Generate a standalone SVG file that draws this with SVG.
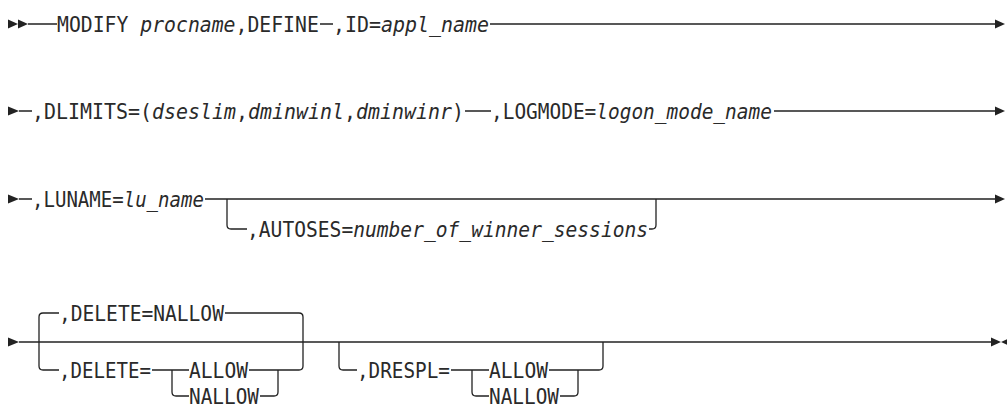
<svg xmlns="http://www.w3.org/2000/svg" width="1007" height="409" viewBox="0 0 1007 409">
<style>
text{font-family:"DejaVu Sans Mono","Liberation Mono",monospace;font-size:22px;fill:#2a2a2a}
.v{font-style:italic}
.ln{fill:none;stroke:#222;stroke-width:1.3}
.ah{fill:#222}
</style>
<rect width="1007" height="409" fill="#fff"/>
<g id="connectors">
<path class="ln" d="M28,24H57M320,24H333M490,24H995"/>
<path class="ln" d="M19,111H32M465,111H491M774,111H995"/>
<path class="ln" d="M19,199H32M205,199H995M227,199V225Q227,229 231,229H247M649,229H652Q656,229 656,225V199"/>
<path class="ln" d="M19,342H991"/>
<path class="ln" d="M59,313H43Q39,313 39,317V366Q39,370 43,370H59M225,313H299Q303,313 303,317V366Q303,370 299,370H249M152,370H189M172,370V392Q172,396 176,396H189M260,396H274Q278,396 278,392V370"/>
<path class="ln" d="M339,342V366Q339,370 343,370H357M451,370H489M472,370V392Q472,396 476,396H489M549,370H599Q603,370 603,366V342M560,396H574Q578,396 578,392V370"/>
<polygon class="ah" points="8,19.5 18,24 8,28.5"/>
<polygon class="ah" points="18,19.5 28,24 18,28.5"/>
<polygon class="ah" points="995,19.5 1005,24 995,28.5"/>
<polygon class="ah" points="8,106.5 19,111 8,115.5"/>
<polygon class="ah" points="995,106.5 1005,111 995,115.5"/>
<polygon class="ah" points="8,194.5 19,199 8,203.5"/>
<polygon class="ah" points="995,194.5 1005,199 995,203.5"/>
<polygon class="ah" points="8,337.5 19,342 8,346.5"/>
<polygon class="ah" points="991,337.5 1001,342 991,346.5"/>
<polygon class="ah" points="1011,337.5 1001,342 1011,346.5"/>
</g>
<g id="n-modify"><text transform="translate(57,32) scale(0.899,1)">MODIFY <tspan class="v">procname</tspan>,DEFINE</text></g>
<g id="n-id"><text transform="translate(333,32) scale(0.906,1)">,ID=<tspan class="v">appl_name</tspan></text></g>
<g id="n-dlimits"><text transform="translate(32,119) scale(0.906,1)">,DLIMITS=(<tspan class="v">dseslim</tspan>,<tspan class="v">dminwinl</tspan>,<tspan class="v">dminwinr</tspan>)</text></g>
<g id="n-logmode"><text transform="translate(491,119) scale(0.884,1)">,LOGMODE=<tspan class="v">logon_mode_name</tspan></text></g>
<g id="n-luname"><text transform="translate(32,207) scale(0.866,1)">,LUNAME=<tspan class="v">lu_name</tspan></text></g>
<g id="n-autoses"><text transform="translate(247,237) scale(0.891,1)">,AUTOSES=<tspan class="v">number_of_winner_sessions</tspan></text></g>
<g id="n-delete-default"><text transform="translate(59,321) scale(0.89,1)">,DELETE=NALLOW</text></g>
<g id="n-delete"><text transform="translate(59,377.8) scale(0.868,1)">,DELETE=</text></g>
<g id="n-delete-allow"><text transform="translate(189,377.8) scale(0.891,1)">ALLOW</text></g>
<g id="n-delete-nallow"><text transform="translate(189,403.6) scale(0.881,1)">NALLOW</text></g>
<g id="n-drespl"><text transform="translate(357,377.8) scale(0.878,1)">,DRESPL=</text></g>
<g id="n-drespl-allow"><text transform="translate(489,377.8) scale(0.891,1)">ALLOW</text></g>
<g id="n-drespl-nallow"><text transform="translate(489,403.6) scale(0.881,1)">NALLOW</text></g>
</svg>
